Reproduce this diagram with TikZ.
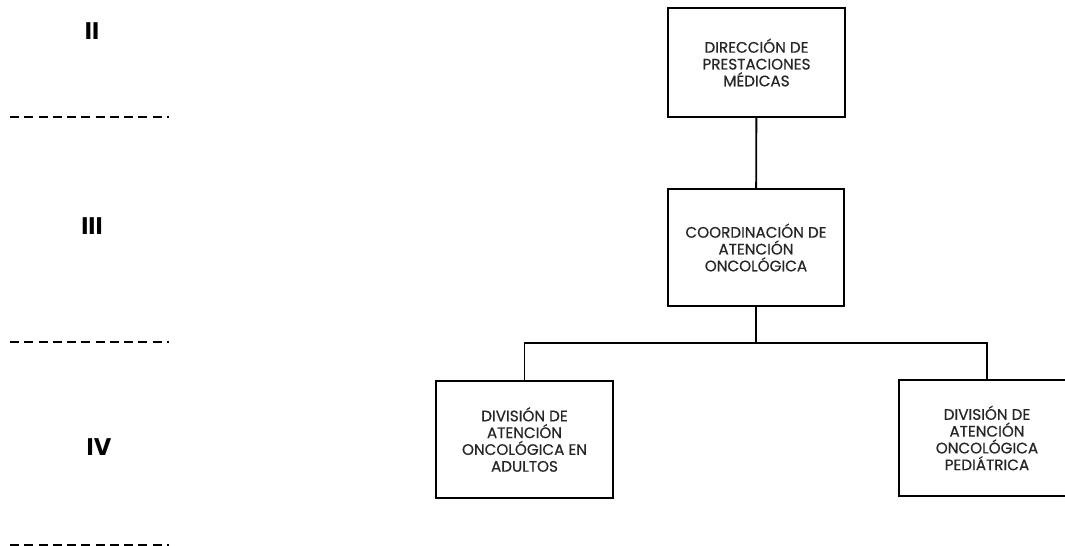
\documentclass[tikz,border=0pt]{standalone}
\usepackage{fontspec}
\setmainfont{Poppins}
\newfontfamily\cajafont[FakeBold=0.6]{Poppins}
\usepackage{tikz}
\usetikzlibrary{arrows,shapes}
\tikzstyle{unidad}=[rectangle, draw
,line width=1.4pt
,minimum width=132.5pt
,minimum height=87.5pt
,align=center
,inner sep=2pt
,text=black!85
,font=\cajafont\fontsize{11.4}{12.6}\selectfont
]
\tikzstyle{nivel}=[font=\fontsize{18}{20}\selectfont\bfseries, inner sep=0pt]
\tikzstyle{separador}=[line width=1.5pt, dash pattern=on 6.8pt off 3.9pt]
\tikzstyle{edge} = [draw,line width=1.4pt,-]

\begin{document}
\begin{tikzpicture}[x=0.75pt,y=-0.75pt]
    \useasboundingbox (0,0) rectangle (1065,546);
    % Levels on the left
    \foreach \pos/\name in {{(92,31)/II}, {(92,226)/III}, {(99,447)/IV}}
        \node[nivel] (n\name) at \pos {\name};
    \foreach \y in {117,342,545}
        \draw[separador] (10,\y) -- (169,\y);
    % The units
    \node[unidad, minimum height=81.5pt] (direccion) at (756.5,62.5)
        {DIRECCIÓN DE\\PRESTACIONES\\MÉDICAS};
    \node[unidad] (coordinacion) at (756,247.5)
        {COORDINACIÓN DE\\ATENCIÓN\\ONCOLÓGICA};
    \node[unidad] (adultos) at (524.5,439.5)
        {DIVISIÓN DE\\ATENCIÓN\\ONCOLÓGICA EN\\ADULTOS};
    \node[unidad] (pediatrica) at (987,438)
        {DIVISIÓN DE\\ATENCIÓN\\ONCOLÓGICA\\PEDIÁTRICA};
    % Connect the units
    \path[edge] (direccion) -- (coordinacion);
    \foreach \dest in {adultos, pediatrica}
        \path[edge] (coordinacion.south) -- ++(0,36) -| (\dest.north);
\end{tikzpicture}
\end{document}
